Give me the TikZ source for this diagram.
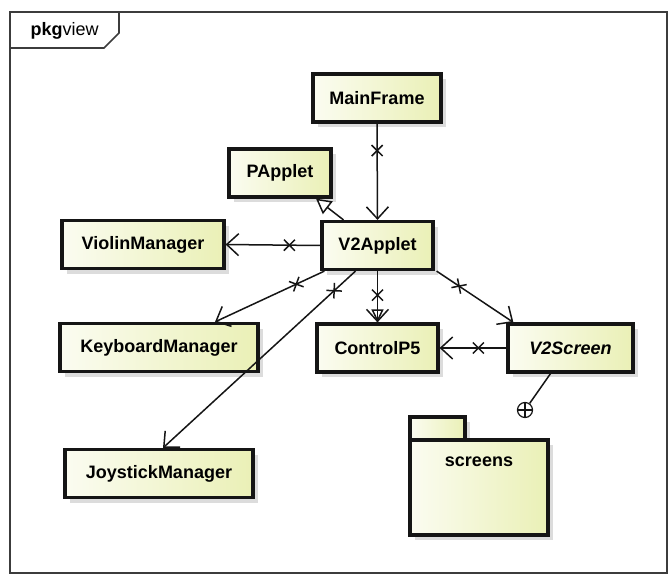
\documentclass[tikz,border=0pt]{standalone}
\usepackage{fontspec}
\setmainfont{Liberation Sans}
\usetikzlibrary{arrows.meta, shadows, decorations.markings}
\definecolor{umlLine}{HTML}{151515}
\definecolor{umlFrame}{HTML}{3C3C3C}
\definecolor{umlPale}{HTML}{FBFCF1}
\definecolor{umlYellow}{HTML}{EAF0B6}
\definecolor{umlShadow}{HTML}{D4D4D4}

\begin{document}
\begin{tikzpicture}[x=1pt, y=-1pt, font=\fontsize{18}{21}\selectfont\bfseries,
  umlclass/.style={draw=umlLine, line width=3.2pt, left color=umlPale, right color=umlYellow,
    minimum height=48pt, inner sep=0pt,
    drop shadow={shadow xshift=5pt, shadow yshift=-5pt, fill=umlShadow, opacity=.8}},
  umlpkg/.style={draw=umlLine, line width=3.2pt, left color=umlPale, right color=umlYellow, inner sep=0pt,
    drop shadow={shadow xshift=5pt, shadow yshift=-5pt, fill=umlShadow, opacity=.8}},
  assoc/.style={draw=umlLine, line width=1.5pt, -{Straight Barb[length=12pt, width=22pt, line width=1.5pt]}},
  gen/.style={draw=umlLine, line width=1.5pt, -{Triangle[length=15pt, width=16pt, line width=1.5pt, fill=white]}},
  nonav/.style={postaction={decorate, decoration={markings, mark=at position #1 with
    {\draw[-, umlLine, line width=1.5pt] (-5.5,-5.5) -- (5.5,5.5) (-5.5,5.5) -- (5.5,-5.5);}}}},
  nonav/.default=27pt]
  \fill[white] (0,0) rectangle (670,576);
  \useasboundingbox (0,0) rectangle (670,576);
  % frame
  \draw[umlFrame, line width=1.6pt] (10,12) rectangle (667,573);
  \draw[umlFrame, line width=1.6pt] (10,48) -- (104,48) -- (119,33) -- (119,12);
  \node[anchor=west, font=\fontsize{18}{20}\selectfont] (framelbl) at (27,31) {\textbf{pkg}view};
  % classes
  \node[umlclass, minimum width=128pt] (mainframe) at (377,98) {MainFrame};
  \node[umlclass, minimum width=102pt] (papplet) at (280,173) {PApplet};
  \node[umlclass, minimum width=111pt] (v2applet) at (377.5,245.5) {V2Applet};
  \node[umlclass, minimum width=162pt] (violin) at (143,244.5) {ViolinManager};
  \node[umlclass, minimum width=198pt] (keyboard) at (159,347.5) {KeyboardManager};
  \node[umlclass, minimum width=121pt] (controlp5) at (377.5,348) {ControlP5};
  \node[umlclass, minimum width=125pt, font=\fontsize{18}{21}\selectfont\bfseries\itshape] (v2screen) at (570.5,348) {V2Screen};
  \node[umlclass, minimum width=188pt] (joystick) at (159,473.5) {JoystickManager};
  % package
  \node[umlpkg, minimum width=55pt, minimum height=23pt] (screenstab) at (437.5,428.5) {};
  \node[umlpkg, minimum width=138pt, minimum height=95pt] (screens) at (479,487.5) {};
  \node (screenslbl) at ([yshift=-23pt]screens.north) {screens};
  % connectors
  \draw[assoc, nonav] (mainframe.south) -- (v2applet.north);
  \draw[gen] ([xshift=-34pt]v2applet.north) -- ([xshift=36pt]papplet.south);
  \draw[assoc, nonav=31pt] (v2applet.west) -- (violin.east);
  \draw[assoc, nonav=31pt] ([xshift=4pt]v2applet.south west) -- ([xshift=56pt]keyboard.north);
  \draw[assoc, nonav=29pt] ([xshift=-22pt]v2applet.south) -- ([xshift=4pt]joystick.north);
  \draw[gen, -{Triangle[length=13pt, width=12pt, line width=1.5pt, fill=white]}] (v2applet.south) -- (controlp5.north);
  \draw[assoc, nonav=24pt] (v2applet.south) -- (controlp5.north);
  \draw[assoc, nonav] ([xshift=2pt]v2applet.south east) -- ([xshift=7pt]v2screen.north west);
  \draw[assoc, nonav=28pt] (v2screen.west) -- (controlp5.east);
  % containment
  \node[draw=umlLine, line width=1.2pt, circle, minimum size=15pt, inner sep=0pt,
    path picture={\draw[umlLine, line width=1.1pt] (path picture bounding box.north) -- (path picture bounding box.south)
      (path picture bounding box.west) -- (path picture bounding box.east);}] (contain) at (525,410) {};
  \draw[umlLine, line width=1.5pt] ([xshift=-20pt]v2screen.south) -- (contain);
\end{tikzpicture}
\end{document}
